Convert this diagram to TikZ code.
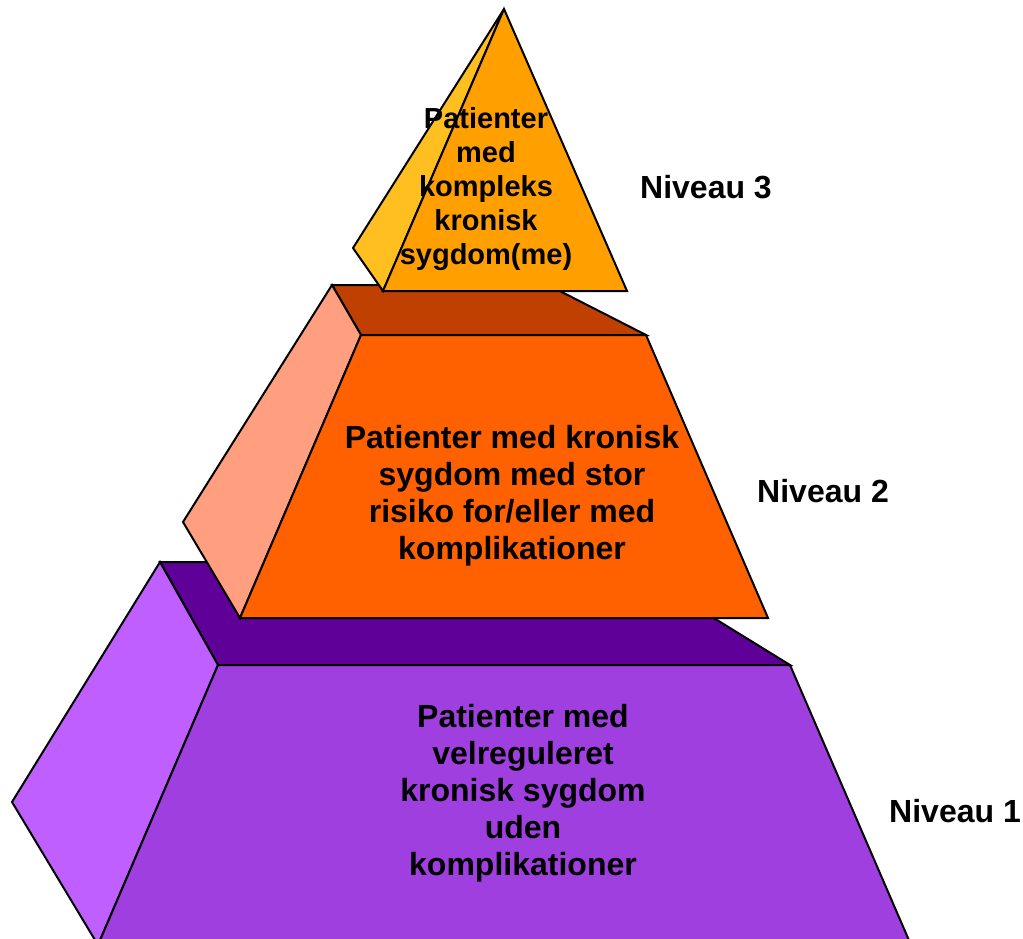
\documentclass[tikz,border=0pt]{standalone}
\usepackage{fontspec}
\setmainfont{Liberation Sans}
\definecolor{botTop}{HTML}{5F0099}
\definecolor{botLeft}{HTML}{BF5FFF}
\definecolor{botFront}{HTML}{9F3FDF}
\definecolor{midTop}{HTML}{BF4000}
\definecolor{midLeft}{HTML}{FF9F7F}
\definecolor{midFront}{HTML}{FF6000}
\definecolor{topLeft}{HTML}{FFBF20}
\definecolor{topFront}{HTML}{FFA000}
\begin{document}
\begin{tikzpicture}[x=1pt,y=-1pt,
  face/.style={draw=black,line width=2pt,line join=miter},
  lbl/.style={font=\fontsize{32}{37}\selectfont\bfseries,align=center,inner sep=0pt},
  toplbl/.style={font=\fontsize{29}{34}\selectfont\bfseries,align=center,inner sep=0pt},
  lvl/.style={font=\fontsize{32}{37}\selectfont\bfseries,anchor=west,inner sep=0pt}]
\useasboundingbox (0,0) rectangle (1023,939);
% bottom level
\path[face,fill=botTop] (160,562) -- (623,562) -- (790,665) -- (218,665) -- cycle;
\path[face,fill=botLeft] (160,562) -- (218,665) -- (98,945) -- (12,802) -- cycle;
\path[face,fill=botFront] (218,665) -- (790,665) -- (911,945) -- (98,945) -- cycle;
% middle level
\path[face,fill=midTop] (332,285) -- (548,285) -- (646,335) -- (361,335) -- cycle;
\path[face,fill=midLeft] (332,285) -- (361,335) -- (240,618) -- (183,522) -- cycle;
\path[face,fill=midFront] (361,335) -- (646,335) -- (768,618) -- (240,618) -- cycle;
% top pyramid
\path[face,fill=topLeft] (504,9) -- (353,248) -- (383,291) -- cycle;
\path[face,fill=topFront] (504,9) -- (627,291) -- (383,291) -- cycle;
% texts
\node[toplbl] (t3) at (486,189) {Patienter\\med\\kompleks\\kronisk\\sygdom(me)};
\node[lbl] (t2) at (512,496) {Patienter med kronisk\\sygdom med stor\\risiko for/eller med\\komplikationer};
\node[lbl] (t1) at (523,793) {Patienter med\\velreguleret\\kronisk sygdom\\uden\\komplikationer};
\node[lvl] (n3) at (640,187) {Niveau 3};
\node[lvl] (n2) at (757,491) {Niveau 2};
\node[lvl] (n1) at (889,811) {Niveau 1};
\end{tikzpicture}
\end{document}
